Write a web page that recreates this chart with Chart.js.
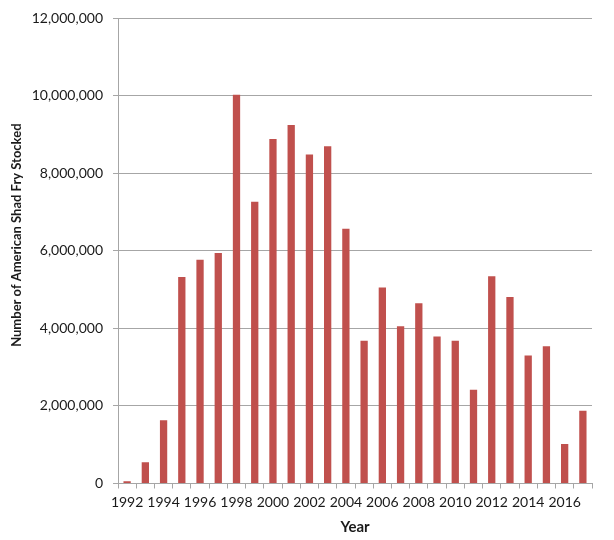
<!DOCTYPE html>
<html>
<head>
<meta charset="utf-8">
<script src="https://cdn.jsdelivr.net/npm/chart.js@4/dist/chart.umd.min.js"></script>
<style>
html,body{margin:0;padding:0;background:#fff;}
#wrap{width:614px;height:540px;position:relative;}
</style>
</head>
<body>
<div id="wrap"><canvas id="c" width="614" height="540"></canvas></div>
<script>
const years = ['1992','1993','1994','1995','1996','1997','1998','1999','2000','2001','2002','2003','2004','2005','2006','2007','2008','2009','2010','2011','2012','2013','2014','2015','2016','2017'];
const fryStocked = [60000,550000,1630000,5330000,5770000,5950000,10030000,7270000,8890000,9250000,8490000,8700000,6570000,3680000,5060000,4060000,4650000,3790000,3680000,2420000,5350000,4810000,3300000,3540000,1020000,1880000];
const yTitle = 'Number of American Shad Fry Stocked';
const xTitle = 'Year';

const FONT = 'Lato, "Open Sans", sans-serif';
const textColor = '#1a1a1a';
const gridColor = '#a6a6a6';

new Chart(document.getElementById('c'), {
  type: 'bar',
  data: {
    labels: years,
    datasets: [{
      data: fryStocked,
      backgroundColor: '#C0504D',
      borderWidth: 0,
      barPercentage: 0.4,
      categoryPercentage: 1.0
    }]
  },
  options: {
    responsive: false,
    animation: false,
    devicePixelRatio: 1,
    layout: { padding: { top: 16, right: 22, left: 0, bottom: 0 } },
    plugins: { legend: { display: false }, tooltip: { enabled: false } },
    scales: {
      x: {
        afterFit: s => { s.height = 56.5; },
        grid: { display: true, drawOnChartArea: false, offset: true, tickLength: 5, color: gridColor },
        border: { color: gridColor, width: 1 },
        ticks: {
          autoSkip: false, maxRotation: 0, minRotation: 0, padding: 6,
          color: textColor, font: { family: FONT, size: 14 },
          callback: function(v, i) { return i % 2 === 0 ? this.getLabelForValue(v) : ''; }
        },
        title: { display: true, text: xTitle, color: textColor, font: { family: FONT, size: 15, weight: 'bold' }, padding: { top: 0, bottom: 4 } }
      },
      y: {
        min: 0, max: 12000000,
        afterFit: s => { s.width = 118; },
        grid: { color: gridColor, tickLength: 5 },
        border: { color: gridColor, width: 1 },
        ticks: {
          stepSize: 2000000, padding: 10,
          color: textColor, font: { family: FONT, size: 14 },
          callback: v => v.toLocaleString('en-US')
        },
        title: { display: true, text: '          ' + yTitle, color: textColor, font: { family: FONT, size: 13, weight: 'bold' }, padding: { top: 9, bottom: 0 } }
      }
    }
  }
});
</script>
</body>
</html>
